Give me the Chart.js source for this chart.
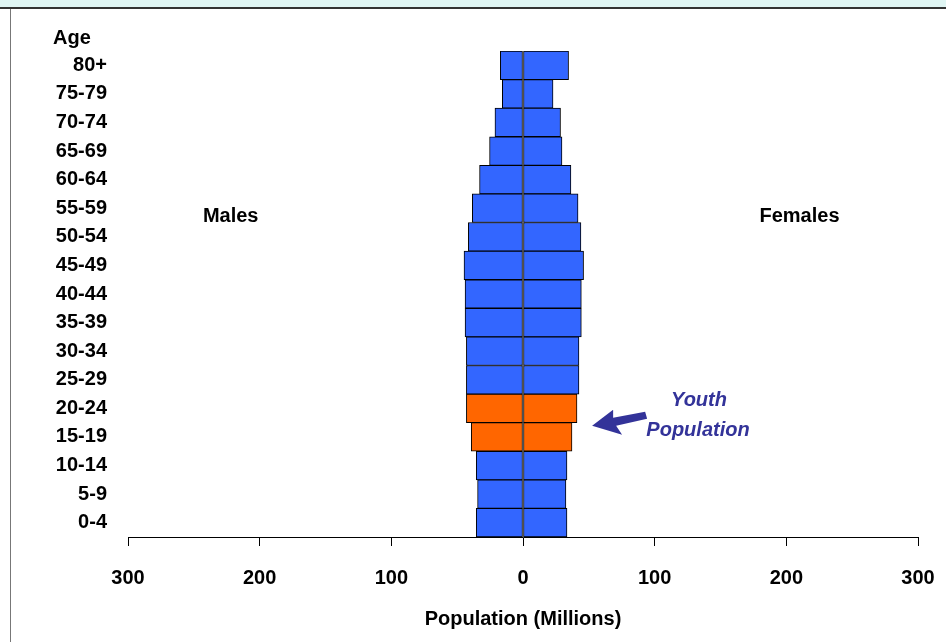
<!DOCTYPE html>
<html>
<head>
<meta charset="utf-8">
<title>Population pyramid</title>
<script src="https://cdn.jsdelivr.net/npm/chart.js@4"></script>
<style>
  html, body { margin: 0; padding: 0; background: #ffffff; }
  #pyramid { display: block; }
</style>
</head>
<body>
<canvas id="pyramid" width="946" height="642"></canvas>
<script>
// age groups, top of the pyramid first
const ageGroups = ['80+', '75-79', '70-74', '65-69', '60-64', '55-59', '50-54', '45-49',
  '40-44', '35-39', '30-34', '25-29', '20-24', '15-19', '10-14', '5-9', '0-4'];
// millions
const malesMillions = [17.2, 15.7, 21.3, 25.4, 33.0, 38.5, 41.5, 44.8,
  44.0, 44.0, 43.0, 43.0, 43.0, 39.3, 35.5, 34.5, 35.5];
const femalesMillions = [34.6, 22.8, 28.5, 29.6, 36.4, 41.8, 44.0, 46.0,
  44.3, 44.3, 42.5, 42.5, 41.0, 37.2, 33.4, 32.6, 33.4];
const youthGroups = ['15-19', '20-24'];
const xMin = -300, xMax = 300, xStep = 100;

const FONT = '"Liberation Sans", Arial, sans-serif';
const BLUE = '#3366ff';
const ORANGE = '#ff6600';
const INK = '#333399';

function barColors(){
  return ageGroups.map(g => youthGroups.includes(g) ? ORANGE : BLUE);
}

// slide frame: cyan strip on top, dark rule, grey line down the left
const framePlugin = {
  id: 'frame',
  beforeDraw(chart){
    let c = chart.ctx;
    c.save();
    c.fillStyle = '#dff5f3';
    c.fillRect(0, 0, chart.width, 8);
    c.fillStyle = '#333333';
    c.fillRect(0, 7, chart.width, 2);
    c.fillStyle = '#777777';
    c.fillRect(10, 9, 1, chart.height - 9);
    c.restore();
  }
};

// "Age", "Males", "Females" and the youth arrow
const notesPlugin = {
  id: 'notes',
  afterDraw(chart){
    let c = chart.ctx;
    let xs = chart.scales.x, ys = chart.scales.y;
    c.save();
    c.fillStyle = '#000';
    c.font = 'bold 20px ' + FONT;
    c.textBaseline = 'middle';
    c.textAlign = 'left';
    c.fillText('Age', 53, 38);
    c.textAlign = 'center';
    let sideY = (ys.getPixelForValue(5) + ys.getPixelForValue(6)) / 2 - 6;
    c.fillText('Males', xs.getPixelForValue(-222), sideY);
    c.fillText('Females', xs.getPixelForValue(210), sideY);

    // youth label
    c.fillStyle = INK;
    c.font = 'italic bold 20px ' + FONT;
    c.fillText('Youth', 699, 400);
    c.fillText('Population', 698, 430);

    // arrow pointing at the youth bars
    let tipX = xs.getPixelForValue(52.5);
    let tipY = (ys.getPixelForValue(12) + ys.getPixelForValue(13)) / 2 + 3;
    c.beginPath();
    c.moveTo(tipX, tipY);
    c.lineTo(tipX + 21, tipY - 16);
    c.lineTo(tipX + 21, tipY - 8);
    c.lineTo(tipX + 53, tipY - 14);
    c.lineTo(tipX + 55, tipY - 7);
    c.lineTo(tipX + 24, tipY + 0);
    c.lineTo(tipX + 30, tipY + 9);
    c.closePath();
    c.fill();
    c.restore();
  }
};

var ctx = document.getElementById('pyramid').getContext('2d');
var chart = new Chart(ctx, {
  type: 'bar',
  data: {
    labels: ageGroups,
    datasets: [
      {
        label: 'Males',
        data: malesMillions.map(v => -v), // left side
        backgroundColor: barColors(),
        borderColor: '#000000',
        borderWidth: 1,
        borderSkipped: false,
        barPercentage: 1,
        categoryPercentage: 1,
      },
      {
        label: 'Females',
        data: femalesMillions,
        backgroundColor: barColors(),
        borderColor: '#000000',
        borderWidth: 1,
        borderSkipped: false,
        barPercentage: 1,
        categoryPercentage: 1,
      }
    ]
  },
  options: {
    indexAxis: 'y',
    responsive: false,
    animation: false,
    layout: { padding: { top: 51, right: 28, left: 0, bottom: 0 } },
    plugins: {
      legend: { display: false },
      tooltip: { enabled: false },
    },
    scales: {
      x: {
        stacked: true,
        min: xMin,
        max: xMax,
        afterFit: s => {
          s.height = 105;
          // the label overhang is covered by layout padding already
          s.paddingLeft = 0;
          s.paddingRight = 0;
        },
        ticks: {
          stepSize: xStep,
          padding: 20,
          color: '#000',
          font: { family: FONT, size: 20, weight: 'bold' },
          callback: v => Math.abs(v),
        },
        grid: { drawOnChartArea: false, drawTicks: true, tickLength: 9, color: '#000' },
        border: { display: true, color: '#000', width: 1 },
        title: {
          display: true,
          text: 'Population (Millions)',
          color: '#000',
          font: { family: FONT, size: 20, weight: 'bold' },
          padding: { top: 0, bottom: 11 },
        },
      },
      y: {
        stacked: true,
        afterFit: s => { s.width = 128; },
        ticks: {
          padding: 13,
          color: '#000',
          font: { family: FONT, size: 20, weight: 'bold' },
        },
        grid: { display: false },
        border: { display: false },
      }
    }
  },
  plugins: [framePlugin, notesPlugin]
});
</script>
</body>
</html>
